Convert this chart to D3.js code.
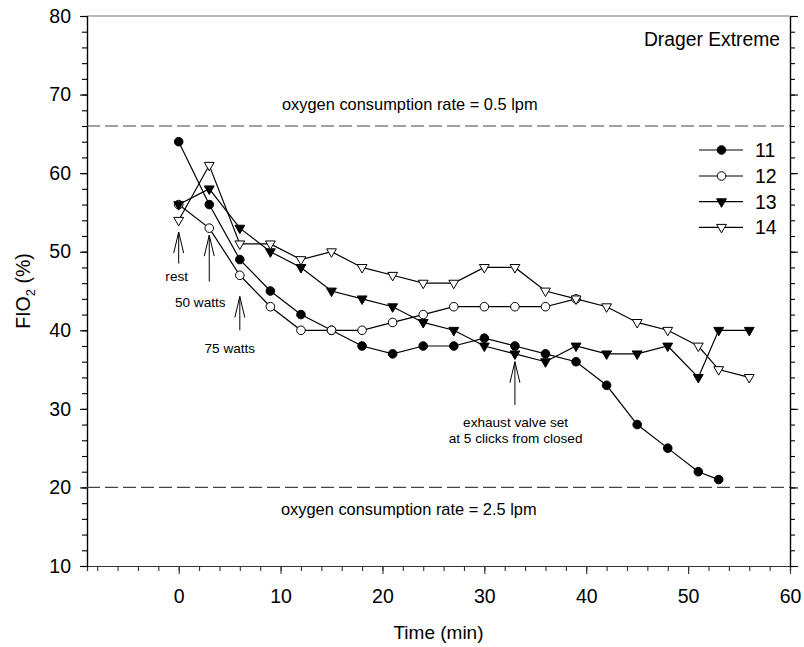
<!DOCTYPE html>
<html>
<head>
<meta charset="utf-8">
<script src="https://cdn.jsdelivr.net/npm/d3@7"></script>
<style>
  html, body { margin: 0; padding: 0; background: #fff; }
  svg { display: block; font-family: "Liberation Sans", Arial, sans-serif; }
</style>
</head>
<body>
<svg id="chart" width="804" height="647"></svg>
<script>
// ---- data ----
const seriesNames = ["11", "12", "13", "14"];
const time11 = [0, 3, 6, 9, 12, 15, 18, 21, 24, 27, 30, 33, 36, 39, 42, 45, 48, 51, 53];
const fio11  = [64, 56, 49, 45, 42, 40, 38, 37, 38, 38, 39, 38, 37, 36, 33, 28, 25, 22, 21];
const time12 = [0, 3, 6, 9, 12, 15, 18, 21, 24, 27, 30, 33, 36, 39];
const fio12  = [56, 53, 47, 43, 40, 40, 40, 41, 42, 43, 43, 43, 43, 44];
const time13 = [0, 3, 6, 9, 12, 15, 18, 21, 24, 27, 30, 33, 36, 39, 42, 45, 48, 51, 53, 56];
const fio13  = [56, 58, 53, 50, 48, 45, 44, 43, 41, 40, 38, 37, 36, 38, 37, 37, 38, 34, 40, 40];
const time14 = [0, 3, 6, 9, 12, 15, 18, 21, 24, 27, 30, 33, 36, 39, 42, 45, 48, 51, 53, 56];
const fio14  = [54, 61, 51, 51, 49, 50, 48, 47, 46, 46, 48, 48, 45, 44, 43, 41, 40, 38, 35, 34];

const xTicks = [0, 10, 20, 30, 40, 50, 60];
const yTicks = [10, 20, 30, 40, 50, 60, 70, 80];
const refLevels = [66, 20];
const refLabels = ["oxygen consumption rate = 0.5 lpm", "oxygen consumption rate = 2.5 lpm"];

// annotation arrows: x (min), tip and base (FIO2 %)
const arrowX    = [0, 3, 6, 33];
const arrowTip  = [52.5, 52.1, 44.3, 36.0];
const arrowBase = [48.5, 46.2, 40.0, 30.5];
const arrowText = [["rest"], ["50 watts"], ["75 watts"], ["exhaust valve set", "at 5 clicks from closed"]];

// ---- layout ----
const svg = d3.select("#chart");
const x = d3.scaleLinear().domain([-9, 60]).range([87, 790]);
const y = d3.scaleLinear().domain([10, 80]).range([566, 16]);

const series = [
  {name: seriesNames[0], t: time11, v: fio11, shape: "circle", fill: "#000"},
  {name: seriesNames[1], t: time12, v: fio12, shape: "circle", fill: "#fff"},
  {name: seriesNames[2], t: time13, v: fio13, shape: "tri", fill: "#000"},
  {name: seriesNames[3], t: time14, v: fio14, shape: "tri", fill: "#fff"}
];

// frame: top line
svg.append("line").attr("x1", x(-9)).attr("x2", x(60)).attr("y1", y(80)).attr("y2", y(80))
  .attr("stroke", "#777").attr("stroke-width", 1.2);

// axes
const minorX = d3.range(-8, 61, 2);
const minorY = d3.range(10, 81, 2);

function styleAxis(g, col) {
  g.select(".domain").attr("stroke", col).attr("stroke-width", 1.2);
  g.selectAll(".tick line").attr("stroke", col).attr("stroke-width", 1.1);
}

// bottom
const gxMinor = svg.append("g").attr("transform", `translate(0,${y(10)})`)
  .call(d3.axisBottom(x).tickValues(minorX).tickSize(5).tickFormat(""));
styleAxis(gxMinor, "#333");
const gx = svg.append("g").attr("transform", `translate(0,${y(10)})`)
  .call(d3.axisBottom(x).tickValues(xTicks).tickSize(8).tickSizeOuter(0).tickPadding(15).tickFormat(d3.format("d")));
styleAxis(gx, "#333");
gx.selectAll("text").attr("font-size", 19.5).attr("fill", "#000").attr("font-family", "Liberation Sans, Arial, sans-serif");

// left
const gyMinor = svg.append("g").attr("transform", `translate(${x(-9)},0)`)
  .call(d3.axisLeft(y).tickValues(minorY).tickSize(5).tickFormat(""));
styleAxis(gyMinor, "#000");
const gy = svg.append("g").attr("transform", `translate(${x(-9)},0)`)
  .call(d3.axisLeft(y).tickValues(yTicks).tickSize(7).tickSizeOuter(0).tickPadding(9).tickFormat(d3.format("d")));
styleAxis(gy, "#000");
gy.selectAll("text").attr("font-size", 19.5).attr("fill", "#000").attr("font-family", "Liberation Sans, Arial, sans-serif");

// right
const grMinor = svg.append("g").attr("transform", `translate(${x(60)},0)`)
  .call(d3.axisRight(y).tickValues(minorY).tickSize(5).tickFormat(""));
styleAxis(grMinor, "#000");
const gr = svg.append("g").attr("transform", `translate(${x(60)},0)`)
  .call(d3.axisRight(y).tickValues(yTicks).tickSize(8).tickSizeOuter(0).tickFormat(""));
styleAxis(gr, "#000");

// axis titles
svg.append("text").attr("x", (x(-9) + x(60)) / 2).attr("y", 639)
  .attr("text-anchor", "middle").attr("font-size", 19).text("Time (min)");

const yt = svg.append("text")
  .attr("transform", `translate(30,${(y(10) + y(80)) / 2}) rotate(-90)`)
  .attr("text-anchor", "middle").attr("font-size", 19.5);
yt.append("tspan").text("FIO");
yt.append("tspan").attr("font-size", 13).attr("dy", 5).text("2");
yt.append("tspan").attr("dy", -5).text(" (%)");

// reference lines
refLevels.forEach((lv, i) => {
  svg.append("line").attr("x1", x(-9)).attr("x2", x(60)).attr("y1", y(lv)).attr("y2", y(lv))
    .attr("stroke", "#444").attr("stroke-width", 1.2).attr("stroke-dasharray", "13,5");
});
svg.append("text").attr("x", 282).attr("y", y(refLevels[0]) - 16)
  .attr("font-size", 16.4).text(refLabels[0]);
svg.append("text").attr("x", 281).attr("y", y(refLevels[1]) + 28)
  .attr("font-size", 16.4).text(refLabels[1]);

// title label
svg.append("text").attr("x", 780).attr("y", 46).attr("text-anchor", "end")
  .attr("font-size", 19.3).text("Drager Extreme");

// arrows
arrowX.forEach((ax, i) => {
  const px = x(ax), tip = y(arrowTip[i]), base = y(arrowBase[i]);
  const g = svg.append("g").attr("stroke", "#000").attr("stroke-width", 1).attr("fill", "none");
  g.append("line").attr("x1", px).attr("x2", px).attr("y1", tip).attr("y2", base);
  g.append("path").attr("d", `M${px - 5},${tip + 21}L${px},${tip}L${px + 5},${tip + 21}`);
});
const textOffsets = [[-2, 17.5], [-9, 25.6], [-10, 22.7], [0.7, 21.7]];
arrowX.forEach((ax, i) => {
  const px = x(ax) + textOffsets[i][0], base = y(arrowBase[i]) + textOffsets[i][1];
  arrowText[i].forEach((t, j) => {
    svg.append("text").attr("x", px).attr("y", base + j * 16)
      .attr("text-anchor", "middle").attr("font-size", 13.6).text(t);
  });
});

// symbols
function drawMarker(g, shape, fill, cx, cy) {
  if (shape === "circle") {
    g.append("circle").attr("cx", cx).attr("cy", cy).attr("r", 4.3)
      .attr("fill", fill).attr("stroke", "#000").attr("stroke-width", 1);
  } else {
    g.append("path").attr("d", `M${cx - 4.9},${cy - 2.9}L${cx + 4.9},${cy - 2.9}L${cx},${cy + 5.6}Z`)
      .attr("fill", fill).attr("stroke", "#000").attr("stroke-width", 1);
  }
}

const line = d3.line().x(d => x(d[0])).y(d => y(d[1]));
series.forEach(s => {
  const pts = s.t.map((t, i) => [t, s.v[i]]);
  const g = svg.append("g");
  g.append("path").attr("d", line(pts)).attr("fill", "none").attr("stroke", "#000").attr("stroke-width", 1.2);
  pts.forEach(p => drawMarker(g, s.shape, s.fill, x(p[0]), y(p[1])));
});

// legend
const legRows = [150, 176, 201.7, 227.3];
series.forEach((s, i) => {
  const g = svg.append("g");
  g.append("line").attr("x1", 699).attr("x2", 743).attr("y1", legRows[i]).attr("y2", legRows[i])
    .attr("stroke", "#000").attr("stroke-width", 1.2);
  drawMarker(g, s.shape, s.fill, 721.5, legRows[i]);
  g.append("text").attr("x", 755).attr("y", legRows[i] + 7).attr("font-size", 19.5).text(s.name);
});
</script>
</body>
</html>
